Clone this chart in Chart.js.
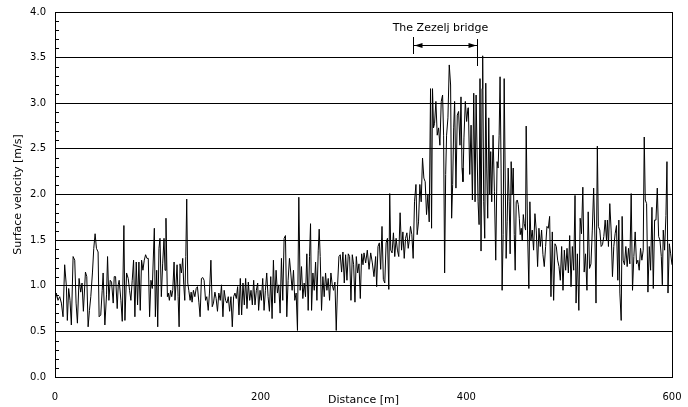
<!DOCTYPE html>
<html>
<head>
<meta charset="utf-8">
<script src="https://cdn.jsdelivr.net/npm/chart.js@4/dist/chart.umd.min.js"></script>
<style>
  body { margin: 0; background: #fff; }
  canvas { display: block; }
</style>
</head>
<body>
<canvas id="chart1" width="688" height="407"></canvas>
<script>
// distance along the river [m]
const distance = [
  0, 1.3, 2.9, 4.6, 6.2, 7.8, 9.4, 11.1, 12.0, 13.3, 14.6, 15.9, 17.6, 19.2, 20.5, 21.8, 23.4, 25.0, 26.3, 27.6,
  29.6, 30.9, 32.2, 33.5, 34.8, 36.4, 37.7, 39.0, 40.3, 41.9, 42.9, 44.5, 45.9, 46.8, 48.5, 50.1, 51.1, 52.4, 53.7, 55.0,
  56.6, 57.6, 58.9, 60.5, 61.5, 62.4, 64.1, 65.4, 67.0, 68.0, 69.6, 71.2, 72.5, 73.8, 75.1, 76.4, 77.7, 79.0, 80.3, 81.6,
  82.9, 84.2, 85.5, 86.8, 88.1, 89.4, 90.7, 92.0, 93.3, 94.6,
  96.6, 97.6, 98.9, 99.9, 101.1, 102.1, 103.4, 104.7, 106.0, 107.0, 107.9, 109.3, 110.2, 111.2, 112.5, 113.5, 114.5, 115.8, 116.7, 117.7,
  118.7, 119.7, 120.7, 121.6, 122.9, 124.2, 125.2, 126.2, 127.2, 128.1, 129.1, 130.1, 131.4, 132.4, 133.3, 134.6, 136.0, 137.3, 138.5, 139.9,
  141.1, 142.4, 143.7, 145.0, 146.4, 147.6, 149.0, 150.2, 151.6, 152.9, 154.1, 155.5, 156.7, 158.0, 159.3, 160.7, 161.9, 163.3, 164.5, 165.9,
  167.2, 168.5, 169.8, 171.1, 172.4, 173.7, 175.0, 176.3, 177.6, 178.9, 180.2, 181.5, 182.8, 184.1, 185.4, 186.7, 188.0, 189.3, 190.6, 191.9,
  193.2, 194.5, 195.8, 197.1,
  198.0, 199.4, 200.7, 202.0, 203.3, 204.6, 205.9, 207.2, 208.5, 209.8, 211.1, 212.4, 213.7, 215.0, 216.3, 217.6, 218.9, 220.2, 221.5, 222.8,
  224.1, 225.4, 226.7, 228.0, 229.3, 230.6, 231.9, 233.2, 234.5, 235.8, 237.1, 238.4, 239.7, 241.0, 242.3, 243.6, 244.9, 246.2, 247.5, 248.5,
  249.5, 250.8, 252.1, 253.4, 254.7, 256.0, 256.9, 257.9, 259.2, 260.5, 261.8, 263.1, 264.4, 265.7, 267.0, 268.3, 269.6, 270.9, 272.2, 273.5,
  274.8, 276.1, 277.4, 278.7, 280.0, 281.3, 282.6, 283.9, 285.2, 286.5, 287.8, 289.1, 290.4, 291.7, 293.0, 294.3, 295.6, 296.9, 298.2, 299.5,
  300.5, 302.1, 303.7, 305.4, 307.0, 308.6, 310.2, 311.8, 312.8, 314.1, 315.4, 316.7, 318.0, 319.3, 320.7, 322.0, 323.3, 324.6, 325.5, 326.5,
  327.8, 329.1, 330.4, 331.7, 333.0, 334.3, 335.6, 337.0, 338.3, 339.6, 340.9, 342.2, 343.5,
  344.4, 345.7, 347.0, 348.3, 349.6, 351.0, 352.2, 353.5, 354.8, 356.1, 357.4, 358.7, 360.0, 361.3, 362.6, 363.9, 365.2, 366.2, 367.1, 368.1,
  369.1, 370.4, 371.7, 373.0, 374.3, 375.6, 376.9, 377.9, 378.9, 379.9, 380.8, 382.1, 383.4, 384.7, 385.7, 386.7, 387.7, 388.6, 389.9, 391.2,
  392.5, 393.8, 394.8, 395.8, 396.7, 397.7, 399.0, 400.3, 401.6,
  402.0, 403.3, 404.6, 405.9, 407.2, 408.5, 409.5, 410.4, 411.4, 412.4, 413.3, 414.3, 415.3, 415.9, 416.9, 417.9, 418.9, 419.8, 420.8, 421.8,
  422.8, 423.7, 424.7, 426.0, 427.3, 428.6, 429.9, 430.9, 431.9, 432.8, 433.8, 434.8, 435.8, 436.8, 437.7, 438.7, 439.7, 440.7, 441.7, 442.6,
  443.6, 444.6, 445.6, 446.6, 447.5, 448.5, 449.5, 450.5, 451.5, 452.4, 453.4, 454.4, 455.4,
  456.3, 457.6, 458.2, 459.5, 460.8, 461.8, 462.8, 464.1, 465.4, 466.7, 468.0, 469.3, 470.6, 471.9, 473.2, 474.5, 475.8, 477.1, 478.4, 479.7,
  481.0, 482.3, 483.6, 484.9, 486.2, 487.5, 488.8, 490.1, 491.4, 492.7, 494.0, 495.3, 496.6, 497.9, 499.2, 500.5, 501.8, 503.1, 504.4, 505.7,
  506.7, 508.0, 509.4, 510.7, 512.0, 513.3, 514.6, 515.9, 517.3, 518.5, 519.8, 521.2, 522.5, 523.8, 525.1, 526.1, 527.4, 528.4, 529.8, 531.1,
  532.4, 533.7, 535.0, 536.3, 537.2, 538.2, 539.5, 540.8, 542.1, 543.4, 544.7, 546.0, 547.3, 548.3, 549.3, 550.6, 551.5, 552.5, 553.8, 555.1,
  556.4, 557.7, 559.0, 560.3, 561.6, 562.9, 564.2, 565.5, 566.8, 568.1, 569.4, 570.7, 572.0, 573.0, 574.0, 575.3, 576.6, 577.9, 579.2, 580.5,
  581.8, 583.1, 584.4, 585.7, 587.0, 588.3, 589.6, 590.6, 591.5, 592.8, 594.1, 595.1, 596.1, 597.4, 598.7, 600.0
];

// surface velocity [m/s]
const velocity = [
  0.81, 0.92, 0.84, 0.88, 0.81, 0.66, 1.23, 0.99, 0.62, 0.97, 0.84, 0.57, 1.32, 1.28, 0.81, 0.59, 1.08, 0.93, 1.03, 0.72,
  1.15, 1.10, 0.55, 0.73, 0.88, 1.14, 1.41, 1.57, 1.41, 1.37, 0.66, 0.68, 0.95, 1.14, 0.57, 0.90, 1.32, 0.84, 1.06, 1.04,
  0.81, 1.10, 1.10, 0.75, 1.01, 1.06, 0.84, 0.61, 1.66, 0.62, 1.14, 1.08, 0.95, 0.84, 1.06, 1.28, 0.66, 1.26, 0.79, 1.26,
  0.73, 1.28, 1.17, 1.28, 1.34, 1.30, 1.30, 0.66, 1.06, 0.97,
  1.63, 0.66, 1.17, 0.55, 1.41, 1.52, 0.88, 1.24, 1.52, 1.17, 1.74, 0.88, 0.92, 0.84, 0.95, 0.88, 0.95, 1.26, 0.84, 1.03,
  1.23, 0.88, 0.55, 1.24, 1.14, 1.30, 1.01, 0.84, 1.32, 1.95, 1.03, 0.95, 0.84, 0.93, 0.82, 0.95, 0.88, 0.97, 0.99, 0.82,
  0.66, 1.08, 1.09, 1.06, 0.84, 0.88, 0.73, 0.92, 1.28, 0.77, 0.81, 0.93, 0.86, 0.72, 0.92, 0.84, 1.01, 0.66, 0.95, 0.84,
  0.81, 0.88, 0.72, 0.88, 0.55, 0.88, 0.92, 0.86, 0.99, 0.68, 1.08, 0.68, 1.03, 0.79, 1.08, 0.75, 1.04, 0.84, 0.95, 0.79,
  1.06, 0.79, 0.95, 1.03,
  0.73, 0.95, 0.84, 1.08, 0.73, 0.95, 1.14, 0.88, 0.72, 1.10, 0.64, 1.28, 0.81, 1.17, 0.92, 1.01, 0.70, 1.30, 0.84, 1.52,
  1.55, 0.66, 1.06, 1.30, 1.14, 0.95, 1.17, 0.84, 0.92, 0.51, 1.97, 0.95, 1.21, 0.86, 1.03, 0.88, 1.35, 0.73, 1.32, 1.68,
  0.73, 1.14, 0.95, 1.26, 0.84, 1.39, 1.62, 1.32, 0.73, 1.10, 0.88, 1.14, 0.95, 1.08, 0.84, 1.14, 1.01, 0.95, 1.04, 0.51,
  1.01, 1.32, 1.34, 1.15, 1.37, 1.03, 1.34, 1.06, 1.35, 1.32, 0.84, 1.34, 1.23, 0.82, 1.32, 1.14, 1.24, 0.86, 1.35, 1.23,
  1.36, 1.25, 1.39, 1.18, 1.36, 1.25, 1.10, 1.32, 0.99, 1.43, 1.47, 1.18, 1.65, 1.07, 1.03, 1.47, 1.52, 0.96, 2.01, 1.39,
  1.36, 1.58, 1.32, 1.52, 1.39, 1.32, 1.80, 1.39, 1.59, 1.30, 1.52, 1.58, 1.41,
  1.49, 1.65, 1.56, 1.30, 1.92, 2.11, 1.56, 1.70, 2.11, 1.92, 2.40, 2.18, 2.14, 1.78, 2.00, 1.70, 3.16, 1.63, 3.16, 2.73,
  2.78, 3.02, 2.65, 2.73, 2.54, 3.02, 3.09, 2.65, 1.14, 2.22, 2.65, 2.84, 3.42, 3.20, 1.74, 2.11, 2.73, 3.02, 2.07, 2.87,
  2.91, 2.54, 3.07, 2.29, 2.14, 2.62, 3.02, 2.80, 2.95,
  2.95, 2.22, 2.76, 1.94, 3.11, 1.92, 3.09, 2.50, 1.92, 1.67, 3.27, 1.38, 3.16, 3.52, 1.92, 1.52, 3.22, 2.29, 1.74, 2.84,
  2.00, 2.47, 1.92, 2.65, 2.03, 1.28, 2.36, 2.29, 2.65, 3.29, 2.29, 0.95, 1.56, 3.27, 2.29, 1.30, 1.70, 2.29, 1.92, 1.35,
  2.36, 2.00, 2.29, 1.56, 1.17, 1.92, 1.94, 1.89, 1.74, 1.56, 1.63, 1.49, 1.78,
  1.68, 1.61, 2.75, 1.61, 0.97, 1.92, 1.50, 1.61, 1.39, 1.79, 1.61, 1.21, 1.63, 1.43, 1.61, 1.34, 1.21, 1.43, 1.65, 1.63,
  1.76, 0.88, 1.59, 0.84, 1.46, 1.43, 1.28, 1.21, 1.06, 1.43, 0.95, 1.39, 1.17, 1.41, 1.14, 1.55, 0.99, 1.43, 1.17, 1.99,
  0.81, 1.35, 0.73, 1.74, 1.57, 2.08, 1.15, 1.35, 0.95, 1.81, 1.19, 1.24, 1.61, 2.07, 1.50, 0.81, 2.53, 1.65, 1.61, 1.43,
  1.45, 1.54, 1.72, 1.50, 1.72, 1.43, 1.90, 1.61, 1.10, 1.43, 1.57, 1.66, 1.06, 1.72, 0.92, 0.62, 1.76, 1.28, 1.23, 1.43,
  1.21, 1.41, 1.24, 2.01, 0.95, 1.32, 1.59, 1.24, 1.28, 1.17, 1.41, 1.28, 1.39, 2.63, 1.94, 1.90, 0.93, 1.43, 1.17, 1.86,
  0.97, 1.72, 1.72, 2.07, 1.54, 1.50, 1.32, 1.01, 1.61, 1.39, 1.77, 2.36, 0.92, 1.46, 1.35, 1.23
];

const xTicks = [0, 200, 400, 600];
const yTicks = [0, 0.5, 1.0, 1.5, 2.0, 2.5, 3.0, 3.5, 4.0];
const bridgeFrom = 348;
const bridgeTo = 410;
const bridgeLabel = 'The Zezelj bridge';

const points = distance.map((d, i) => ({ x: d, y: velocity[i] }));

const FONT = "'DejaVu Sans', Verdana, sans-serif";

// frame, small y ticks and the bridge marker
const decor = {
    id: 'decor',
    afterDraw(chart) {
        const ctx = chart.ctx;
        const a = chart.chartArea;
        const x = chart.scales.x;
        const y = chart.scales.y;
        ctx.save();
        ctx.strokeStyle = '#000';
        ctx.lineWidth = 1;
        ctx.beginPath();
        ctx.moveTo(Math.round(a.right) + 0.5, a.top);
        ctx.lineTo(Math.round(a.right) + 0.5, a.bottom);
        ctx.stroke();

        // minor ticks every 0.1
        ctx.beginPath();
        for (let k = 1; k < 40; k++) {
            if (k % 5 === 0) continue;
            const py = Math.round(y.getPixelForValue(k / 10)) + 0.5;
            ctx.moveTo(a.left, py);
            ctx.lineTo(a.left + 4, py);
        }
        ctx.stroke();

        // bridge annotation
        const x0 = Math.round(x.getPixelForValue(bridgeFrom)) + 0.5;
        const x1 = Math.round(x.getPixelForValue(bridgeTo)) + 0.5;
        const ya = 45.5;
        ctx.beginPath();
        ctx.moveTo(x0, 37); ctx.lineTo(x0, 54);
        ctx.moveTo(x1, 39); ctx.lineTo(x1, 66);
        ctx.moveTo(x0, ya); ctx.lineTo(x1, ya);
        ctx.stroke();
        ctx.fillStyle = '#000';
        ctx.beginPath();
        ctx.moveTo(x0 + 1, ya); ctx.lineTo(x0 + 9, ya - 2.5); ctx.lineTo(x0 + 9, ya + 2.5); ctx.closePath();
        ctx.moveTo(x1 - 1, ya); ctx.lineTo(x1 - 9, ya - 2.5); ctx.lineTo(x1 - 9, ya + 2.5); ctx.closePath();
        ctx.fill();
        ctx.font = '11px ' + FONT;
        ctx.textAlign = 'center';
        ctx.textBaseline = 'middle';
        ctx.fillText(bridgeLabel, (x0 + x1) / 2 - 5, 28);
        ctx.restore();
    }
};

const config = {
    type: 'line',
    data: {
        datasets: [{
            label: 'Surface velocity',
            data: points,
            borderColor: '#000',
            borderWidth: 1,
            pointRadius: 0,
            tension: 0,
            fill: false
        }]
    },
    options: {
        responsive: false,
        animation: false,
        layout: { padding: { top: 12, right: 16, left: 0, bottom: 0 } },
        plugins: {
            legend: { display: false },
            tooltip: { enabled: false }
        },
        scales: {
            x: {
                type: 'linear',
                min: 0,
                max: 600,
                afterBuildTicks: (s) => { s.ticks = xTicks.map(v => ({ value: v })); },
                afterFit: (s) => {
                    s.height = 30;
                    s.paddingLeft = 0; s.paddingRight = 0;
                },
                grid: { display: false, drawTicks: false },
                border: { display: true, color: '#000', width: 1 },
                ticks: { padding: 14, maxRotation: 0, color: '#000', font: { family: FONT, size: 10 } },
                title: {
                    display: true,
                    text: 'Distance [m]',
                    color: '#000',
                    font: { family: FONT, size: 11 },
                    padding: { top: 0, bottom: 0 }
                }
            },
            y: {
                min: 0,
                max: 4,
                afterBuildTicks: (s) => { s.ticks = yTicks.map(v => ({ value: v })); },
                afterFit: (s) => {
                    s.width = 55;
                    s.paddingTop = 0; s.paddingBottom = 0;
                },
                grid: { color: '#000', lineWidth: 1, drawTicks: false },
                border: { display: true, color: '#000', width: 1 },
                ticks: {
                    padding: 9,
                    color: '#000',
                    font: { family: FONT, size: 10 },
                    callback: (v) => Number(v).toFixed(1)
                },
                title: {
                    display: true,
                    text: 'Surface velocity [m/s]',
                    color: '#000',
                    font: { family: FONT, size: 11 },
                    padding: { top: 12, bottom: 0 }
                }
            }
        }
    },
    plugins: [decor]
};

new Chart(document.getElementById('chart1'), config);
</script>
</body>
</html>
